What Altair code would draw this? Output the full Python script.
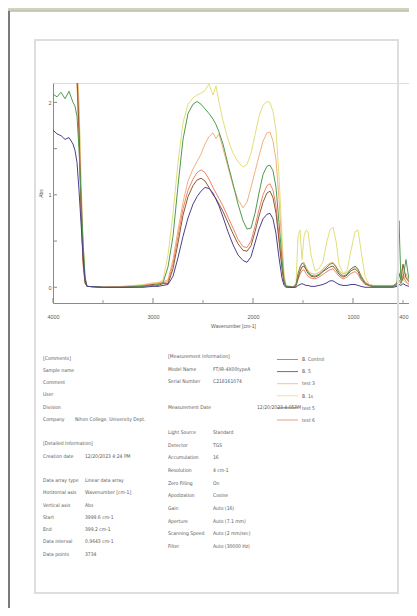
import altair as alt
import pandas as pd

# ---------------- data ----------------
WAVENUMBER = [4000, 3960, 3920, 3880, 3840, 3800, 3780, 3760, 3740, 3720, 3700, 3680, 3660,
              3500, 3300, 3100, 3000, 2950, 2900,
              2850, 2800, 2750, 2700, 2650, 2600, 2560, 2520, 2480, 2440, 2400, 2370, 2340, 2300,
              2250, 2200, 2150, 2100, 2060, 2020, 1980, 1940, 1900, 1860, 1830, 1800, 1770, 1740,
              1710, 1690, 1670,
              1600, 1570, 1550, 1530, 1510, 1490, 1470, 1450, 1420, 1380, 1340, 1300, 1260, 1230,
              1200, 1170, 1140, 1100, 1060, 1020, 980, 950, 920, 880, 840, 800, 700, 600, 560, 540,
              520, 500, 470, 440, 400]

SERIES = ["B. 1s", "test 3", "test 6", "test 5", "B. Control", "B. 5"]
COLORS = ["#e2df7a", "#f2b27e", "#f08466", "#8e5a30", "#4f9a4f", "#4b3f8f"]
LEGEND_ORDER = ["B. Control", "B. 5", "test 3", "B. 1s", "test 5", "test 6"]

ABS_YELLOW = [2.6, 2.6, 2.6, 2.6, 2.6, 2.6, 2.6, 2.5, 2.0, 1.2, 0.5, 0.10, 0.01,
              0.0, 0.01, 0.03, 0.05, 0.05, 0.08,
              0.35, 0.80, 1.35, 1.78, 1.98, 2.05, 2.08, 2.10, 2.13, 2.20, 2.08, 2.18, 2.00, 1.80,
              1.60, 1.45, 1.36, 1.30, 1.33, 1.45, 1.65, 1.85, 1.97, 2.01, 2.00, 1.90, 1.70, 1.20,
              0.55, 0.15, 0.02,
              0.0, 0.05, 0.55, 0.62, 0.30, 0.55, 0.62, 0.60, 0.35, 0.18, 0.20, 0.28, 0.50, 0.62,
              0.65, 0.50, 0.25, 0.15, 0.18, 0.40, 0.60, 0.62, 0.40, 0.12, 0.03, 0.02, 0.02, 0.02,
              0.03, 0.05, 0.04, 0.08, 0.05, 0.04, 0.03]
ABS_TAN = [2.6, 2.6, 2.6, 2.6, 2.6, 2.6, 2.6, 2.4, 1.9, 1.1, 0.45, 0.08, 0.01,
           0.0, 0.01, 0.02, 0.04, 0.05, 0.06,
           0.08, 0.30, 0.62, 0.92, 1.15, 1.28, 1.36, 1.44, 1.55, 1.63, 1.67, 1.61, 1.66, 1.50,
           1.30, 1.10, 0.95, 0.86, 0.92, 1.08, 1.25, 1.42, 1.58, 1.67, 1.68, 1.58, 1.38, 0.95,
           0.42, 0.12, 0.02,
           0.0, 0.02, 0.12, 0.20, 0.26, 0.27, 0.22, 0.18, 0.15, 0.14, 0.16, 0.20, 0.24, 0.26,
           0.27, 0.23, 0.18, 0.14, 0.16, 0.20, 0.22, 0.19, 0.13, 0.06, 0.03, 0.02, 0.02, 0.02,
           0.04, 0.10, 0.20, 0.08, 0.15, 0.05, 0.04]
ABS_SALMON = [2.6, 2.6, 2.6, 2.6, 2.6, 2.6, 2.6, 2.2, 1.6, 0.8, 0.25, 0.04, 0.01,
              0.0, 0.0, 0.02, 0.03, 0.04, 0.05,
              0.06, 0.25, 0.55, 0.85, 1.05, 1.17, 1.24, 1.27, 1.24, 1.17, 1.08, 1.02, 0.96, 0.88,
              0.76, 0.64, 0.52, 0.44, 0.43, 0.50, 0.66, 0.84, 1.00, 1.10, 1.12, 1.05, 0.88, 0.55,
              0.22, 0.06, 0.01,
              0.0, 0.01, 0.08, 0.14, 0.18, 0.19, 0.15, 0.12, 0.10, 0.09, 0.11, 0.14, 0.17, 0.19,
              0.20, 0.16, 0.12, 0.09, 0.11, 0.15, 0.17, 0.14, 0.08, 0.03, 0.02, 0.01, 0.01, 0.01,
              0.02, 0.08, 0.04, 0.12, 0.06, 0.03, 0.03]
ABS_BROWN = [2.6, 2.6, 2.6, 2.6, 2.6, 2.6, 2.6, 2.3, 1.7, 0.9, 0.3, 0.05, 0.01,
             0.0, 0.0, 0.01, 0.03, 0.02, 0.04,
             0.04, 0.20, 0.48, 0.78, 0.98, 1.10, 1.16, 1.18, 1.15, 1.08, 1.00, 0.96, 0.90, 0.82,
             0.70, 0.58, 0.47, 0.40, 0.39, 0.45, 0.60, 0.77, 0.92, 1.02, 1.04, 0.97, 0.80, 0.50,
             0.20, 0.05, 0.01,
             0.0, 0.02, 0.10, 0.17, 0.22, 0.23, 0.19, 0.15, 0.12, 0.11, 0.13, 0.17, 0.20, 0.22,
             0.23, 0.19, 0.14, 0.11, 0.13, 0.18, 0.20, 0.17, 0.10, 0.04, 0.02, 0.01, 0.01, 0.01,
             0.05, 0.15, 0.08, 0.25, 0.10, 0.06, 0.05]
ABS_GREEN = [2.09, 2.06, 2.11, 2.04, 2.12, 2.00, 1.96, 1.85, 1.50, 1.00, 0.50, 0.12, 0.01,
             0.0, 0.0, 0.01, 0.02, 0.03, 0.05,
             0.22, 0.55, 1.10, 1.60, 1.88, 1.98, 2.01, 1.98, 1.93, 1.88, 1.82, 1.76, 1.68, 1.55,
             1.33, 1.12, 0.90, 0.72, 0.63, 0.64, 0.80, 1.02, 1.22, 1.31, 1.32, 1.26, 1.08, 0.70,
             0.30, 0.08, 0.01,
             0.0, 0.03, 0.15, 0.22, 0.26, 0.25, 0.20, 0.17, 0.13, 0.12, 0.14, 0.18, 0.22, 0.25,
             0.26, 0.22, 0.16, 0.12, 0.14, 0.20, 0.23, 0.20, 0.12, 0.05, 0.02, 0.01, 0.01, 0.01,
             0.03, 0.72, 0.05, 0.10, 0.30, 0.08, 0.05]
ABS_NAVY = [1.70, 1.66, 1.64, 1.60, 1.62, 1.55, 1.48, 1.35, 1.05, 0.70, 0.35, 0.08, 0.01,
            0.0, 0.0, 0.0, 0.01, 0.01, 0.02,
            0.03, 0.12, 0.32, 0.55, 0.75, 0.90, 0.98, 1.04, 1.08, 1.07, 1.02, 0.95, 0.88, 0.76,
            0.60, 0.46, 0.35, 0.29, 0.27, 0.33, 0.48, 0.63, 0.74, 0.79, 0.80, 0.74, 0.58, 0.32,
            0.10, 0.02, 0.0,
            0.0, 0.0, 0.02, 0.03, 0.04, 0.03, 0.02, 0.02, 0.01, 0.01, 0.02, 0.03, 0.05, 0.07,
            0.07, 0.05, 0.03, 0.02, 0.02, 0.03, 0.03, 0.02, 0.01, 0.0, 0.0, 0.0, 0.0, 0.0,
            0.01, 0.03, 0.02, 0.04, 0.02, 0.01, 0.01]

X_MAJOR = [4000, 3000, 2000, 1000]
X_MINOR = [3500, 2500, 1500, 500]
Y_TICKS = [0, 0.5, 1, 1.5, 2]

LEFT_LABELS = ["[Comments]", "Sample name", "Comment", "User", "Division", "Company", "",
               "[Detailed Information]", "Creation date", "", "Data array type",
               "Horizontal axis", "Vertical axis", "Start", "End", "Data interval", "Data points"]
LEFT_VALUES_TOP = ["", "", "", "", "", "Nihon College, University Dept."]
LEFT_VALUES = ["", "", "", "", "", "", "", "", "12/20/2023 4:24 PM", "", "Linear data array",
               "Wavenumber [cm-1]", "Abs", "3999.6 cm-1", "399.2 cm-1", "0.9643 cm-1", "3734"]
MID_LABELS = ["[Measurement Information]", "Model Name", "Serial Number", "", "Measurement Date",
              "", "Light Source", "Detector", "Accumulation", "Resolution", "Zero Filling",
              "Apodization", "Gain", "Aperture", "Scanning Speed", "Filter"]
MID_VALUES = ["", "FT/IR-4X00typeA", "C218161074", "", "", "", "Standard", "TGS", "16",
              "4 cm-1", "On", "Cosine", "Auto (16)", "Auto (7.1 mm)", "Auto (2 mm/sec)",
              "Auto (30000 Hz)"]
MEAS_DATE = ["", "", "", "", "12/20/2023 4:05PM"]

# ---------------- build ----------------
rows = []
for name, vals in zip(SERIES, [ABS_YELLOW, ABS_TAN, ABS_SALMON, ABS_BROWN, ABS_GREEN, ABS_NAVY]):
    assert len(vals) == len(WAVENUMBER)
    for w, a in zip(WAVENUMBER, vals):
        rows.append({"wn": w, "abs": a, "series": name})
df = pd.DataFrame(rows)

FONT = "Liberation Sans Narrow, DejaVu Sans Condensed, Liberation Sans, sans-serif"
TXT = "#5a5a5a"
W, H = 356, 220
FS = 5

xscale = alt.Scale(domain=[4000, 400], range=[0, 360], nice=False, zero=False)
yscale = alt.Scale(domain=[-0.17, 2.21], nice=False, zero=False)
cscale = alt.Scale(domain=SERIES, range=COLORS)

AX_X = alt.Axis(values=X_MAJOR + X_MINOR + [400], format="d",
                labelExpr="(datum.value % 1000 == 0 || datum.value == 400) ? datum.label : ''",
                labelAlign={"condition": {"test": "datum.value == 400", "value": "right"},
                            "value": "center"},
                labelOffset={"condition": {"test": "datum.value == 400", "value": -5},
                             "value": 0},
                labelFlush=False, labelOverlap=False, ticks=False, grid=False,
                labelFontSize=5.5, labelFont="Liberation Sans", labelColor=TXT, labelPadding=11,
                domainColor="#8a8a8a", title="Wavenumber [cm-1]", titleFontSize=5,
                titleFont="Liberation Sans", titleFontWeight="normal", titleColor=TXT,
                titlePadding=4)
AX_Y = alt.Axis(values=Y_TICKS, format="~g",
                labelExpr="datum.value % 1 == 0 ? datum.label : ''",
                ticks=False, grid=False, labelFontSize=5.5, labelFont="Liberation Sans",
                labelColor=TXT, labelPadding=2, domainColor="#8a8a8a",
                title="Abs", titleFontSize=5, titleFont="Liberation Sans",
                titleFontWeight="normal", titleColor=TXT, titlePadding=4)

one = pd.DataFrame({"k": [0]})


def text_layer(s, x, y, lh=12.3, size=FS, color=TXT):
    return alt.Chart(one).mark_text(
        align="left", baseline="top", lineBreak="\n", lineHeight=lh,
        fontSize=size, font=FONT, color=color
    ).encode(x=alt.value(x), y=alt.value(y), text=alt.value(s))


def text_rows(lines, x, y0, lh):
    """one text mark per run of consecutive non-empty rows"""
    layers, run, start = [], [], None
    for i, l in enumerate(list(lines) + [""]):
        if l:
            if start is None:
                start = i
            run.append(l)
        else:
            if run:
                layers.append(text_layer("\n".join(run), x, y0 + start * lh, lh))
            run, start = [], None
    return layers


def rect(x, x2, y, y2, fill=None, stroke=None, sw=1):
    kw = {"fill": fill} if fill else {"fill": "white", "fillOpacity": 0}
    if stroke:
        kw["stroke"] = stroke
        kw["strokeWidth"] = sw
    return alt.Chart(one).mark_rect(**kw).encode(
        x=alt.value(x), x2=alt.value(x2), y=alt.value(y), y2=alt.value(y2))


lines = alt.Chart(df).mark_line(strokeWidth=1, clip=True).encode(
    x=alt.X("wn:Q", scale=xscale, axis=AX_X),
    y=alt.Y("abs:Q", scale=yscale, axis=AX_Y),
    color=alt.Color("series:N", scale=cscale, legend=None),
)

xt_major = alt.Chart(pd.DataFrame({"wn": X_MAJOR})).mark_rule(color="#8a8a8a").encode(
    x=alt.X("wn:Q", scale=xscale, axis=AX_X), y=alt.value(H), y2=alt.value(H - 5))
xt_minor = alt.Chart(pd.DataFrame({"wn": X_MINOR})).mark_rule(color="#9a9a9a").encode(
    x=alt.X("wn:Q", scale=xscale, axis=AX_X), y=alt.value(H), y2=alt.value(H - 3))
yt = alt.Chart(pd.DataFrame({"abs": Y_TICKS})).mark_rule(color="#8a8a8a").encode(
    y=alt.Y("abs:Q", scale=yscale, axis=AX_Y), x=alt.value(0), x2=alt.value(4))

frame = [
    rect(-45, 356, -75, -72.5, fill="#d2d2bd"),
    rect(-45, 356, -72.5, -71.5, fill="#9c9c8c"),
    rect(-45, -43, -72, 525, fill="#7a7a7a"),
    rect(-18, 345, -43, 510, stroke="#dedede", sw=2),
]

LT, MT = 272.5, 271.0
texts = (text_rows(LEFT_LABELS, -10, LT, 12.25)
         + text_rows(LEFT_VALUES_TOP, 22, LT, 12.25)
         + text_rows(LEFT_VALUES, 32, LT, 12.25)
         + text_rows(MID_LABELS, 115, MT, 12.67)
         + text_rows(MID_VALUES, 160, MT, 12.67)
         + text_rows(MEAS_DATE, 204, MT, 12.67)
         + text_rows(LEGEND_ORDER, 249, 274.3, 12.1))

legend_lines = []
for i, name in enumerate(LEGEND_ORDER):
    col = COLORS[SERIES.index(name)]
    legend_lines.append(
        alt.Chart(one).mark_rule(color=col, strokeWidth=1, opacity=0.8).encode(
            x=alt.value(224), x2=alt.value(245), y=alt.value(276.5 + i * 12.1)))

chart = alt.layer(lines, xt_major, xt_minor, yt, *frame, *legend_lines, *texts).properties(
    width=W, height=H,
    autosize=alt.AutoSizeParams(type="none"),
    padding={"left": 45, "top": 75, "right": 0, "bottom": 305},
).configure_view(stroke="#a8a8a8", strokeWidth=1).configure(background="white")

chart.save("out.html", embed_options={"renderer": "svg", "actions": False})
